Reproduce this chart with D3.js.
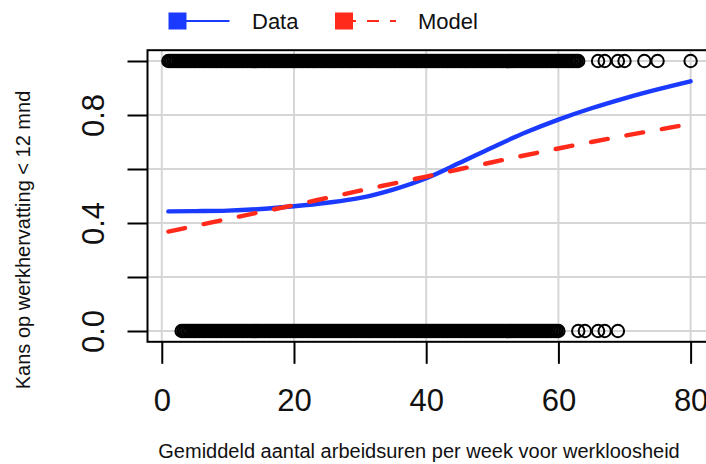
<!DOCTYPE html>
<html>
<head>
<meta charset="utf-8">
<script src="https://cdn.jsdelivr.net/npm/d3@7"></script>
<style>
  body { margin: 0; background: #fff; }
  svg { display: block; font-family: "Liberation Sans", Arial, sans-serif; }
</style>
</head>
<body>
<div id="chart"></div>
<script>
// observed hours, outcome = 1 (werk hervat < 12 mnd)
var hoursYes = [1, 1.25, 1.5, 1.75, 2, 2.25, 2.5, 2.75, 3, 3.25, 3.5, 3.75, 4, 4.25, 4.5, 4.75,
    5, 5.25, 5.5, 5.75, 6, 6.25, 6.5, 6.75, 7, 7.25, 7.5, 7.75, 8, 8.25, 8.5, 8.75,
    9, 9.25, 9.5, 9.75, 10, 10.25, 10.5, 10.75, 11, 11.25, 11.5, 11.75, 12, 12.25, 12.5, 12.75,
    13, 13.25, 13.5, 13.75, 14, 14.25, 14.5, 14.75, 15, 15.25, 15.5, 15.75, 16, 16.25, 16.5, 16.75,
    17, 17.25, 17.5, 17.75, 18, 18.25, 18.5, 18.75, 19, 19.25, 19.5, 19.75, 20, 20.25, 20.5, 20.75,
    21, 21.25, 21.5, 21.75, 22, 22.25, 22.5, 22.75, 23, 23.25, 23.5, 23.75, 24, 24.25, 24.5, 24.75,
    25, 25.25, 25.5, 25.75, 26, 26.25, 26.5, 26.75, 27, 27.25, 27.5, 27.75, 28, 28.25, 28.5, 28.75,
    29, 29.25, 29.5, 29.75, 30, 30.25, 30.5, 30.75, 31, 31.25, 31.5, 31.75, 32, 32.25, 32.5, 32.75,
    33, 33.25, 33.5, 33.75, 34, 34.25, 34.5, 34.75, 35, 35.25, 35.5, 35.75, 36, 36.25, 36.5, 36.75,
    37, 37.25, 37.5, 37.75, 38, 38.25, 38.5, 38.75, 39, 39.25, 39.5, 39.75, 40, 40.25, 40.5, 40.75,
    41, 41.25, 41.5, 41.75, 42, 42.25, 42.5, 42.75, 43, 43.25, 43.5, 43.75, 44, 44.25, 44.5, 44.75,
    45, 45.25, 45.5, 45.75, 46, 46.25, 46.5, 46.75, 47, 47.25, 47.5, 47.75, 48, 48.25, 48.5, 48.75,
    49, 49.25, 49.5, 49.75, 50, 50.25, 50.5, 50.75, 51, 51.25, 51.5, 51.75, 52, 52.25, 52.5, 52.75,
    53, 53.25, 53.5, 53.75, 54, 54.25, 54.5, 54.75, 55, 55.25, 55.5, 55.75, 56, 56.25, 56.5, 56.75,
    57, 57.25, 57.5, 57.75, 58, 58.25, 58.5, 58.75, 59, 59.25, 59.5, 59.75, 60, 60.25, 60.5, 60.75,
    61, 61.25, 61.5, 61.75, 62, 62.25, 62.5, 62.75, 63,
    66, 67, 69, 70, 73, 75, 80];
// observed hours, outcome = 0
var hoursNo = [3, 3.25, 3.5, 3.75, 4, 4.25, 4.5, 4.75,
    5, 5.25, 5.5, 5.75, 6, 6.25, 6.5, 6.75, 7, 7.25, 7.5, 7.75, 8, 8.25, 8.5, 8.75,
    9, 9.25, 9.5, 9.75, 10, 10.25, 10.5, 10.75, 11, 11.25, 11.5, 11.75, 12, 12.25, 12.5, 12.75,
    13, 13.25, 13.5, 13.75, 14, 14.25, 14.5, 14.75, 15, 15.25, 15.5, 15.75, 16, 16.25, 16.5, 16.75,
    17, 17.25, 17.5, 17.75, 18, 18.25, 18.5, 18.75, 19, 19.25, 19.5, 19.75, 20, 20.25, 20.5, 20.75,
    21, 21.25, 21.5, 21.75, 22, 22.25, 22.5, 22.75, 23, 23.25, 23.5, 23.75, 24, 24.25, 24.5, 24.75,
    25, 25.25, 25.5, 25.75, 26, 26.25, 26.5, 26.75, 27, 27.25, 27.5, 27.75, 28, 28.25, 28.5, 28.75,
    29, 29.25, 29.5, 29.75, 30, 30.25, 30.5, 30.75, 31, 31.25, 31.5, 31.75, 32, 32.25, 32.5, 32.75,
    33, 33.25, 33.5, 33.75, 34, 34.25, 34.5, 34.75, 35, 35.25, 35.5, 35.75, 36, 36.25, 36.5, 36.75,
    37, 37.25, 37.5, 37.75, 38, 38.25, 38.5, 38.75, 39, 39.25, 39.5, 39.75, 40, 40.25, 40.5, 40.75,
    41, 41.25, 41.5, 41.75, 42, 42.25, 42.5, 42.75, 43, 43.25, 43.5, 43.75, 44, 44.25, 44.5, 44.75,
    45, 45.25, 45.5, 45.75, 46, 46.25, 46.5, 46.75, 47, 47.25, 47.5, 47.75, 48, 48.25, 48.5, 48.75,
    49, 49.25, 49.5, 49.75, 50, 50.25, 50.5, 50.75, 51, 51.25, 51.5, 51.75, 52, 52.25, 52.5, 52.75,
    53, 53.25, 53.5, 53.75, 54, 54.25, 54.5, 54.75, 55, 55.25, 55.5, 55.75, 56, 56.25, 56.5, 56.75,
    57, 57.25, 57.5, 57.75, 58, 58.25, 58.5, 58.75, 59, 59.25, 59.5, 59.75, 60,
    63, 64, 66, 67, 69];

// smoothed curves
var curveX     = [1, 5, 10, 15, 20, 25, 30, 35, 40, 45, 50, 55, 60, 65, 70, 75, 80];
var dataCurve  = [0.443, 0.444, 0.446, 0.452, 0.462, 0.475, 0.493, 0.524, 0.566, 0.622, 0.680, 0.735, 0.783, 0.825, 0.862, 0.895, 0.925];
var modelCurve = [0.368, 0.389, 0.415, 0.441, 0.466, 0.493, 0.520, 0.546, 0.572, 0.599, 0.625, 0.651, 0.676, 0.700, 0.723, 0.745, 0.767];

var xTicks = [0, 20, 40, 60, 80];
var yTicks = [0, 0.2, 0.4, 0.6, 0.8, 1.0];
var yLabels = [0, 0.4, 0.8];
var xlim = [-2.16, 83.16],
    ylim = [-0.04, 1.04];

function init() {
    var w = 706, h = 464;
    var box = {left: 147.5, right: 711.5, top: 50.2, bottom: 341.8};

    var svg = d3.select("#chart").append("svg")
        .attr("width", w)
        .attr("height", h);

    var x = d3.scaleLinear().domain(xlim).range([box.left, box.right]);
    var y = d3.scaleLinear().domain(ylim).range([box.bottom, box.top]);

    // grid
    var grid = svg.append("g").attr("stroke", "#d6d6d6").attr("stroke-width", 2);
    grid.selectAll(".gx").data(xTicks).enter().append("line")
        .attr("x1", d => x(d)).attr("x2", d => x(d))
        .attr("y1", box.top).attr("y2", box.bottom);
    grid.selectAll(".gy").data(yTicks).enter().append("line")
        .attr("y1", d => y(d)).attr("y2", d => y(d))
        .attr("x1", box.left).attr("x2", box.right);

    // points
    var pts = svg.append("g").attr("fill", "none").attr("stroke", "#000").attr("stroke-width", 2);
    pts.selectAll(".p1").data(hoursYes).enter().append("circle")
        .attr("cx", d => x(d)).attr("cy", y(1)).attr("r", 6.2);
    pts.selectAll(".p0").data(hoursNo).enter().append("circle")
        .attr("cx", d => x(d)).attr("cy", y(0)).attr("r", 6.2);

    // curves
    var dataPts = curveX.map((v, i) => [v, dataCurve[i]]);
    var modelPts = curveX.map((v, i) => [v, modelCurve[i]]);
    var line = d3.line().x(d => x(d[0])).y(d => y(d[1])).curve(d3.curveMonotoneX);

    svg.append("path").datum(dataPts)
        .attr("d", line)
        .attr("fill", "none")
        .attr("stroke", "#1a3aff")
        .attr("stroke-width", 4.4)
        .attr("stroke-linecap", "round");

    svg.append("path").datum(modelPts)
        .attr("d", line)
        .attr("fill", "none")
        .attr("stroke", "#ff2a1a")
        .attr("stroke-width", 4.4)
        .attr("stroke-dasharray", "17,19")
        .attr("stroke-linecap", "round");

    // box
    svg.append("rect")
        .attr("x", box.left).attr("y", box.top)
        .attr("width", box.right - box.left).attr("height", box.bottom - box.top)
        .attr("fill", "none").attr("stroke", "#000").attr("stroke-width", 2);

    // y axis
    var yAxis = d3.axisLeft(y).tickValues(yTicks).tickSize(20).tickSizeOuter(0)
        .tickFormat(d => yLabels.indexOf(d) >= 0 ? d3.format(".1f")(d) : "");
    var gy = svg.append("g")
        .attr("transform", "translate(" + box.left + ",0)")
        .call(yAxis);
    gy.select(".domain").remove();
    gy.selectAll(".tick line").attr("stroke", "#000").attr("stroke-width", 2);
    gy.selectAll(".tick text")
        .attr("transform", "rotate(-90)")
        .attr("x", 0).attr("y", -44).attr("dy", 0)
        .style("text-anchor", "middle")
        .style("font-size", "31px")
        .attr("fill", "#111");

    // x axis
    var xAxis = d3.axisBottom(x).tickValues(xTicks).tickSize(22).tickSizeOuter(0);
    var gx = svg.append("g")
        .attr("transform", "translate(0," + box.bottom + ")")
        .call(xAxis);
    gx.select(".domain").remove();
    gx.selectAll(".tick line").attr("stroke", "#000").attr("stroke-width", 2);
    gx.selectAll(".tick text")
        .attr("y", 69).attr("dy", 0)
        .style("font-size", "31px")
        .attr("fill", "#111");

    // axis titles
    svg.append("text")
        .attr("transform", "translate(30,240) rotate(-90)")
        .attr("text-anchor", "middle")
        .style("font-size", "20px")
        .attr("fill", "#111")
        .text("Kans op werkhervatting < 12 mnd");

    svg.append("text")
        .attr("x", 419).attr("y", 458)
        .attr("text-anchor", "middle")
        .style("font-size", "20px")
        .attr("fill", "#111")
        .text("Gemiddeld aantal arbeidsuren per week voor werkloosheid");

    // legend
    var legendItems = [
        {name: "Data", color: "#1a3aff", dash: null, x: 177.5, tx: 252},
        {name: "Model", color: "#ff2a1a", dash: "12,11", x: 344, tx: 418}
    ];
    var legend = svg.append("g");
    legendItems.forEach(function(it) {
        legend.append("line")
            .attr("x1", it.x).attr("x2", it.x + 52)
            .attr("y1", 21).attr("y2", 21)
            .attr("stroke", it.color).attr("stroke-width", 1.8)
            .attr("stroke-dasharray", it.dash);
        legend.append("rect")
            .attr("x", it.x - 9).attr("y", 12.5)
            .attr("width", 18).attr("height", 17)
            .attr("fill", it.color);
        legend.append("text")
            .attr("x", it.tx).attr("y", 29)
            .style("font-size", "22px")
            .attr("fill", "#111")
            .text(it.name);
    });
}

init();
</script>
</body>
</html>
